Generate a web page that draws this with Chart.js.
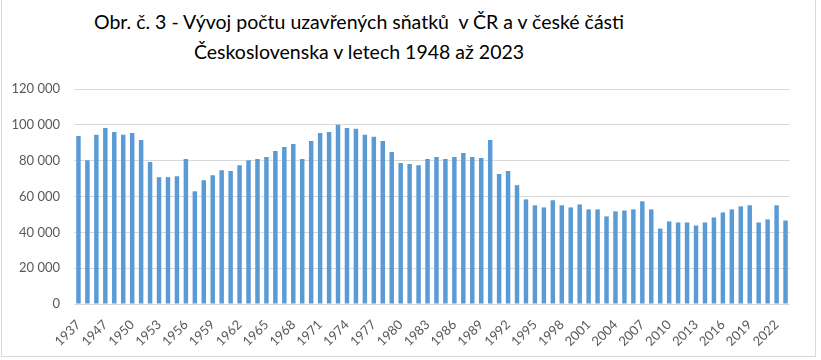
<!DOCTYPE html>
<html>
<head>
<meta charset="utf-8">
<script src="https://cdn.jsdelivr.net/npm/chart.js@4/dist/chart.umd.min.js"></script>
<style>
  html, body { margin: 0; padding: 0; background: #fff; }
  #wrap { position: relative; width: 821px; height: 360px; overflow: hidden; }
  #frame { position: absolute; left: 1px; top: -2px; width: 815px; height: 359px;
           border: 1px solid #d9d9d9; box-sizing: border-box; }
  .title { position: absolute; left: 0; width: 718px; text-align: center;
           font-family: Lato, sans-serif; font-size: 19.5px; color: #000; white-space: pre; }
  #t1 { top: 10px; }
  #t2 { top: 40px; }
  canvas { position: absolute; left: 0; top: 0; }
</style>
</head>
<body>
<div id="wrap">
  <div id="frame"></div>
  <div class="title" id="t1">Obr. č. 3 - Vývoj počtu uzavřených sňatků  v ČR a v české části</div>
  <div class="title" id="t2">Československa v letech 1948 až 2023</div>
  <canvas id="c" width="821" height="360"></canvas>
</div>
<script>
const years = ['1937','1945','1946','1947','1948','1949','1950','1951','1952','1953',
  '1954','1955','1956','1957','1958','1959','1960','1961','1962','1963',
  '1964','1965','1966','1967','1968','1969','1970','1971','1972','1973',
  '1974','1975','1976','1977','1978','1979','1980','1981','1982','1983',
  '1984','1985','1986','1987','1988','1989','1990','1991','1992','1993',
  '1994','1995','1996','1997','1998','1999','2000','2001','2002','2003',
  '2004','2005','2006','2007','2008','2009','2010','2011','2012','2013',
  '2014','2015','2016','2017','2018','2019','2020','2021','2022','2023'];

const marriages = [93800, 80300, 94400, 98300, 96000, 94400, 95500, 91600, 79200, 70800,
  70800, 71300, 80900, 62900, 69100, 71900, 74700, 74200, 77500, 80300,
  80900, 82000, 85400, 87600, 89300, 80900, 91000, 95500, 96000, 100000,
  98300, 97800, 94400, 93300, 91000, 84800, 78700, 78100, 77500, 80900,
  82000, 80900, 82000, 84300, 82000, 81500, 91600, 72500, 74200, 66300,
  58400, 55100, 53900, 57900, 55100, 53900, 55600, 52800, 52800, 48900,
  51700, 52200, 52800, 57300, 52800, 42100, 46100, 45500, 45500, 43800,
  45500, 48300, 51100, 52800, 54500, 55100, 45500, 47200, 55100, 46600];

const yMin = 0, yMax = 120000, yStep = 20000;

function fmt(v) { return String(v).replace(/\B(?=(\d{3})+(?!\d))/g, ' '); }

new Chart(document.getElementById('c'), {
  type: 'bar',
  data: {
    labels: years,
    datasets: [{
      data: marriages,
      backgroundColor: '#5B9BD5',
      borderWidth: 0,
      barPercentage: 0.5,
      categoryPercentage: 1.0
    }]
  },
  options: {
    responsive: false,
    animation: false,
    devicePixelRatio: 1,
    layout: { padding: { top: 89, right: 31, bottom: 0, left: 0 } },
    plugins: { legend: { display: false }, title: { display: false }, tooltip: { enabled: false } },
    scales: {
      x: {
        grid: { display: false },
        border: { display: false },
        ticks: {
          autoSkip: false,
          maxRotation: 45, minRotation: 45,
          padding: 5,
          color: '#595959',
          font: { family: 'Lato, sans-serif', size: 13 },
          callback: function(v, i) { return i % 3 === 0 ? years[i] : ''; }
        },
        afterFit: function(s) { s.height = 56; }
      },
      y: {
        min: yMin, max: yMax,
        grid: { color: '#d9d9d9', lineWidth: 1, drawTicks: false },
        border: { display: false },
        ticks: {
          stepSize: yStep,
          padding: 14,
          color: '#595959',
          font: { family: 'Lato, sans-serif', size: 13 },
          callback: function(v) { return fmt(v); }
        },
        afterFit: function(s) { s.width = 74; }
      }
    }
  }
});
</script>
</body>
</html>
